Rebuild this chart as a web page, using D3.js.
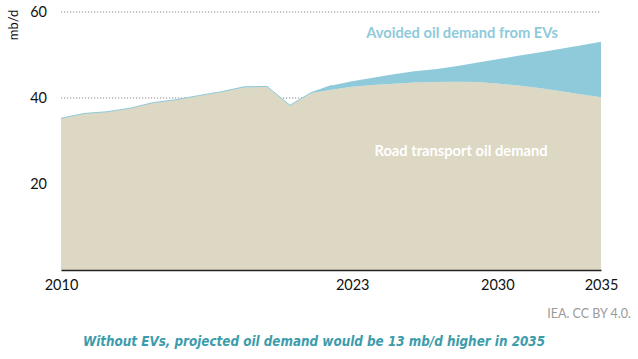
<!DOCTYPE html>
<html><head><meta charset="utf-8">
<script src="https://cdn.jsdelivr.net/npm/d3@7"></script>
<style>
html,body{margin:0;padding:0;background:#fff;}
svg{display:block;}
</style></head>
<body>
<svg id="chart" width="638" height="359"></svg>
<script>
const years = d3.range(2010, 2036);
const roadDemand = [35.3, 36.4, 36.8, 37.6, 38.9, 39.6, 40.5, 41.4, 42.5, 42.6, 38.2, 41.1, 41.9, 42.6, 43.0, 43.3, 43.6, 43.7, 43.8, 43.7, 43.4, 42.9, 42.3, 41.6, 40.9, 40.2];
const avoidedEV = [0, 0, 0, 0, 0, 0, 0.05, 0.05, 0.1, 0.1, 0.1, 0.1, 1.0, 1.3, 1.7, 2.2, 2.6, 3.0, 3.6, 4.5, 5.6, 6.9, 8.3, 9.8, 11.3, 12.9];
const yTicks = [20, 40, 60];
const xTicks = [2010, 2023, 2030, 2035];

const svg = d3.select("#chart");
const font = "Lato, 'Open Sans', sans-serif";

const x = d3.scaleLinear().domain([2010, 2020, 2035]).range([61, 290, 601]);
const y = d3.scaleLinear().domain([0, 60]).range([270, 12]);

const data = years.map((yr, i) => ({year: yr, road: roadDemand[i], total: roadDemand[i] + avoidedEV[i]}));

// gridlines
svg.append("g").selectAll("line").data(yTicks).join("line")
  .attr("x1", x(2010)).attr("x2", x(2035))
  .attr("y1", d => y(d)).attr("y2", d => y(d))
  .attr("stroke", "#8a8a8a").attr("stroke-width", 1.2)
  .attr("stroke-dasharray", "1.2,1.8");

// areas
const curve = d3.curveLinear;
const areaEV = d3.area().curve(curve).x(d => x(d.year)).y0(d => y(d.road)).y1(d => y(d.total));
const areaRoad = d3.area().curve(curve).x(d => x(d.year)).y0(y(0)).y1(d => y(d.road));

svg.append("path").datum(data).attr("d", areaRoad).attr("fill", "#dcd8c3");
svg.append("path").datum(data).attr("d", areaEV).attr("fill", "#8fcadb");
svg.append("path").datum(data.filter(d => d.year <= 2022))
  .attr("d", d3.line().curve(curve).x(d => x(d.year)).y(d => y(d.total)))
  .attr("fill", "none").attr("stroke", "#8fcadb").attr("stroke-width", 1);

// x axis
const xAxis = d3.axisBottom(x).tickValues(xTicks).tickFormat(d3.format("d")).tickSize(0).tickPadding(10);
const gx = svg.append("g").attr("transform", `translate(0,${y(0)})`).call(xAxis);
gx.select(".domain").attr("stroke", "#222").attr("stroke-width", 1.5);
gx.selectAll("text").attr("font-family", font).attr("font-size", 14.5).attr("fill", "#111");

// y axis labels
const yAxis = d3.axisLeft(y).tickValues(yTicks).tickSize(0).tickPadding(14);
const gy = svg.append("g").attr("transform", `translate(${x(2010)},0)`).call(yAxis);
gy.select(".domain").remove();
gy.selectAll("text").attr("font-family", font).attr("font-size", 14.5).attr("fill", "#111");

svg.append("text").attr("transform", "translate(18,25) rotate(-90)")
  .attr("text-anchor", "middle").attr("font-family", font).attr("font-size", 13).attr("fill", "#111")
  .text("mb/d");

// series labels
svg.append("text").attr("x", 462).attr("y", 38).attr("text-anchor", "middle")
  .attr("font-family", font).attr("font-weight", "bold").attr("font-size", 14.7)
  .attr("fill", "#8fcadb").text("Avoided oil demand from EVs");
svg.append("text").attr("x", 461).attr("y", 156).attr("text-anchor", "middle")
  .attr("font-family", font).attr("font-weight", "bold").attr("font-size", 14.7)
  .attr("fill", "#ffffff").text("Road transport oil demand");

// source
svg.append("text").attr("x", 631).attr("y", 318).attr("text-anchor", "end")
  .attr("font-family", font).attr("font-size", 12.5).attr("fill", "#9a9a9a")
  .text("IEA. CC BY 4.0.");

// caption
svg.append("text").attr("x", 83).attr("y", 346)
  .attr("font-family", "'DejaVu Sans', sans-serif").attr("font-weight", "bold").attr("font-style", "italic")
  .attr("font-size", 13.5).attr("fill", "#3c9cab")
  .attr("textLength", 462).attr("lengthAdjust", "spacingAndGlyphs")
  .text("Without EVs, projected oil demand would be 13 mb/d higher in 2035");
</script>
</body></html>
